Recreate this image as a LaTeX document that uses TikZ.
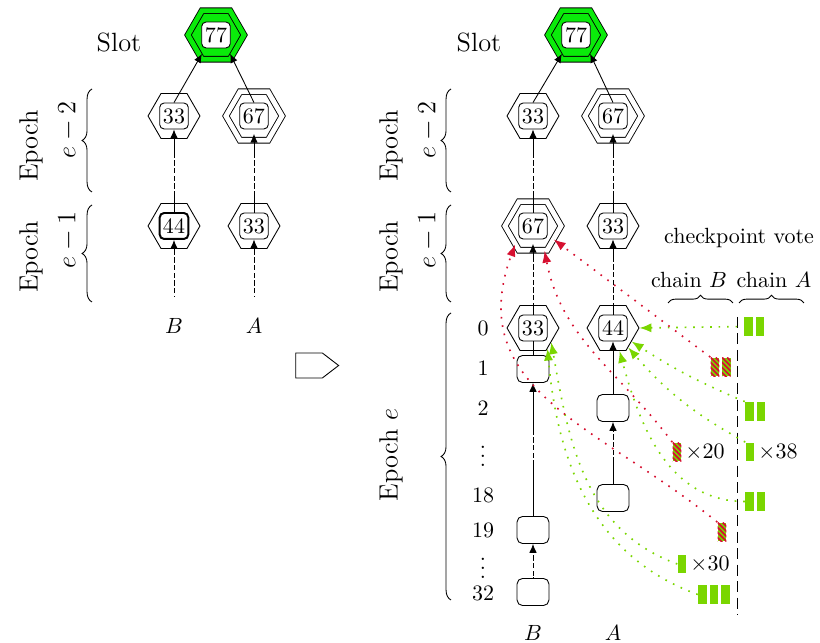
\documentclass[tikz,border=0pt]{standalone}
\usepackage{amsmath}
\usetikzlibrary{shapes.geometric, shapes.symbols, positioning, decorations.pathreplacing, arrows.meta, calc}
\tikzset{>={Latex[length=4pt,width=3.4pt]}}
\definecolor{slotgreen}{RGB}{10,235,10}
\definecolor{votegreen}{RGB}{122,214,0}
\definecolor{votered}{RGB}{214,16,48}
\tikzset{
  hex/.style={draw, regular polygon, regular polygon sides=6, minimum size=23.6pt, inner sep=0pt},
  dhex/.style={hex, minimum size=25.5pt, double, double distance=2.2pt},
  num/.style={draw, rounded corners=2pt, fill=white, minimum width=13pt, minimum height=11.8pt, inner sep=1pt},
  blk/.style={draw, rounded corners=2.5pt, minimum width=14.5pt, minimum height=12.3pt},
  gap/.style={white, line width=1pt, dash pattern=on 1pt off 2.5pt},
  epoch/.style={decorate, decoration={brace, amplitude=4.5pt}},
  chainbr/.style={decorate, decoration={brace, amplitude=3.5pt}},
  vbar/.style={fill=votegreen, minimum width=3.9pt, minimum height=8.6pt, inner sep=0pt},
  sbar/.style={vbar, path picture={\foreach \k in {-4,...,2} \draw[votered, line width=0.8pt] ([xshift={\k*2.3pt}]path picture bounding box.north west) -- ++(9pt,-9pt);}},
  vote/.style={line width=0.75pt, dash pattern=on 0.75pt off 3.1pt, -{Latex[length=5.4pt,width=4.2pt]}},
}

\begin{document}
\begin{tikzpicture}[x=0.4545pt, y=0.4545pt]
    \useasboundingbox (0,0) rectangle (820,643);

    % before
    \node[font=\large] (slotL) at (119,601) {Slot};
    \node[dhex, fill=slotgreen, double=slotgreen] (hLT) at (216,608) {};
    \node[num] (LT) at (216,608) {77};
    \node[hex] (hL2B) at (174,527) {};
    \node[num] (L2B) at (174,527) {33};
    \node[dhex] (hL2A) at (254,527) {};
    \node[num] (L2A) at (254,527) {67};
    \node[hex] (hL1B) at (174,417) {};
    \node[num, line width=0.9pt] (L1B) at (174,417) {44};
    \node[hex] (hL1A) at (254,417) {};
    \node[num] (L1A) at (254,417) {33};
    \coordinate (lB) at (174,346);
    \coordinate (lA) at (254,346);
    \node (labLB) at (174,317) {$B$};
    \node (labLA) at (254,317) {$A$};

    \draw[->] (L2B.north) -- ([shift={(-6.4pt,-8.6pt)}]LT.center);
    \draw[->] (L2A.north) -- ([shift={(6.4pt,-8.6pt)}]LT.center);
    \draw[->] (L1B.north) -- (L2B.south);
    \draw[->] (L1A.north) -- ([yshift=-2pt]L2A.south);
    \draw[->] (lB) -- (L1B.south);
    \draw[->] (lA) -- (L1A.south);
    \foreach \x in {174,254} {
        \draw[gap] (\x,485) -- (\x,451);
        \draw[gap] (\x,388) -- (\x,346);
    }

    \draw[epoch] (92,451) -- (92,554);
    \draw[epoch] (92,341) -- (92,438);
    \node[rotate=90, font=\large] (epL2) at (31,497) {Epoch};
    \node[rotate=90, font=\large] (eL2) at (68,513) {$e-2$};
    \node[rotate=90, font=\large] (epL1) at (31,386) {Epoch};
    \node[rotate=90, font=\large] (eL1) at (68,403) {$e-1$};

    \node[draw, signal, signal to=east, signal pointer angle=75, minimum width=19.5pt, minimum height=11.4pt, inner sep=0pt] (goes) at (309,277.5) {};

    % after
    \node[font=\large] (slotR) at (479,601) {Slot};
    \node[dhex, fill=slotgreen, double=slotgreen] (hRT) at (576,608) {};
    \node[num] (RT) at (576,608) {77};
    \node[hex] (hR2B) at (533,527) {};
    \node[num] (R2B) at (533,527) {33};
    \node[dhex] (hR2A) at (613,527) {};
    \node[num] (R2A) at (613,527) {67};
    \node[dhex] (hR1B) at (533,417) {};
    \node[num] (R1B) at (533,417) {67};
    \node[hex] (hR1A) at (613,417) {};
    \node[num] (R1A) at (613,417) {33};
    \node[hex] (hR0B) at (533,315) {};
    \node[num] (R0B) at (533,315) {33};
    \node[hex] (hR0A) at (613,315) {};
    \node[num] (R0A) at (613,315) {44};
    \node[blk] (B1) at (533,274) {};
    \node[blk] (B19) at (533,113) {};
    \node[blk] (B32) at (533,51) {};
    \node[blk] (A2) at (613,235) {};
    \node[blk] (A18) at (613,145) {};
    \node (labRB) at (533,10) {$B$};
    \node (labRA) at (613,10) {$A$};

    \foreach \t/\y [count=\i] in {0/315, 1/275, 2/235, {$\vdots$}/193, 18/148, 19/113, {$\vdots$}/81, 32/50}
        \node[inner sep=0.5pt] (row\i) at (483,\y) {\t};

    \draw[->] (R2B.north) -- ([shift={(-6.4pt,-8.6pt)}]RT.center);
    \draw[->] (R2A.north) -- ([shift={(6.4pt,-8.6pt)}]RT.center);
    \draw[->] (R1B.north) -- (R2B.south);
    \draw[->] (R1A.north) -- ([yshift=-2pt]R2A.south);
    \draw[->] (R0B.north) -- ([yshift=-2pt]R1B.south);
    \draw[->] (R0A.north) -- (R1A.south);
    \draw (B1.north) -- (R0B.south);
    \draw[->] (A2.north) -- (R0A.south);
    \draw[->] (B19.north) -- (B1.south);
    \draw[->] (A18.north) -- (A2.south);
    \draw[->] (B32.north) -- (B19.south);
    \foreach \x in {533,613} {
        \draw[gap] (\x,485) -- (\x,448);
        \draw[gap] (\x,381) -- (\x,340);
    }
    \draw[gap] (533,208) -- (533,181);
    \draw[gap] (533,90) -- (533,66);
    \draw[gap] (613,211) -- (613,181);

    \draw[epoch] (451,451) -- (451,554);
    \draw[epoch] (451,341) -- (451,438);
    \draw[epoch] (451,43) -- (451,330);
    \node[rotate=90, font=\large] (epR2) at (391,497) {Epoch};
    \node[rotate=90, font=\large] (eR2) at (428,513) {$e-2$};
    \node[rotate=90, font=\large] (epR1) at (391,386) {Epoch};
    \node[rotate=90, font=\large] (eR1) at (428,403) {$e-1$};
    \node[rotate=90, font=\large] (epR0) at (391,188) {Epoch $e$};

    % checkpoint votes
    \node (cpv) at (739,405) {checkpoint vote};
    \node (chB) at (689,363) {chain $B$};
    \node (chA) at (774,363) {chain $A$};
    \draw[chainbr] (668,340) -- (733,340);
    \draw[chainbr] (739,340) -- (804,340);
    \coordinate (sepTop) at (737,326);
    \coordinate (sepBot) at (737,28);
    \draw[dash pattern=on 5pt off 2.5pt] (sepTop) -- (sepBot);

    \node[vbar] (va1) at (748.5,316.5) {};
    \node[vbar, right=0.9pt of va1] (va1b) {};
    \node[sbar] (vs1) at (715,276) {};
    \node[sbar, right=0.9pt of vs1] (vs1b) {};
    \node[vbar] (va2) at (749.5,231.5) {};
    \node[vbar, right=0.9pt of va2] (va2b) {};
    \node[vbar] (va38) at (750,191) {};
    \node[right=0.5pt of va38, inner sep=1pt] (t38) {$\times38$};
    \node[sbar] (vs20) at (677,191) {};
    \node[right=0.5pt of vs20, inner sep=1pt] (t20) {$\times20$};
    \node[vbar] (va3) at (749.5,141.5) {};
    \node[vbar, right=0.9pt of va3] (va3b) {};
    \node[sbar] (vs2) at (722,111) {};
    \node[vbar] (vg30) at (682,79) {};
    \node[right=0.5pt of vg30, inner sep=1pt] (t30) {$\times30$};
    \node[vbar] (vg3) at (702.5,48.5) {};
    \node[vbar, right=0.9pt of vg3] (vg3b) {};
    \node[vbar, right=0.9pt of vg3b] (vg3c) {};

    \draw[vote, votegreen, shorten <=3pt] (va1.west) -- (hR0A.east);
    \draw[vote, votegreen] (va2.north west) to[bend left=5] (hR0A.-36);
    \draw[vote, votegreen] (va38.north west) to[bend left=10] (hR0A.-52);
    \draw[vote, votegreen] (va3.west) to[out=180, in=-75] (hR0A.-74);
    \draw[vote, votegreen] (vg30.west) to[out=160, in=-80] (hR0B.-38);
    \draw[vote, votegreen] (vg3.west) to[out=160, in=-85] (hR0B.-55);
    \draw[vote, votered] (vs1.north west) -- (hR1B.-33);
    \draw[vote, votered] (vs20.north west) to[out=127, in=-79] (hR1B.-65);
    \draw[vote, votered] (vs2.north west) to[out=141, in=-110, looseness=1.15] (hR1B.-134);
\end{tikzpicture}
\end{document}
